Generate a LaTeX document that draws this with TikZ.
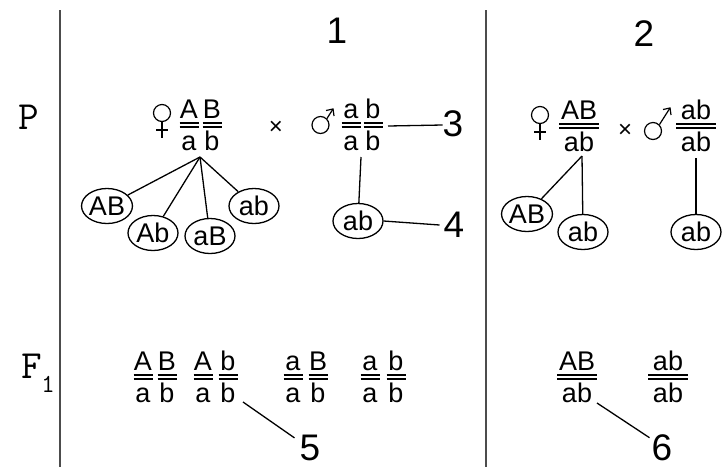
\documentclass[tikz,border=0pt]{standalone}
\usepackage{fontspec}
\setmainfont{Liberation Sans}
\usetikzlibrary{shapes.geometric}

% one locus column: top allele, double bar, bottom allele
\newcommand\genecol[5]{%
  \node[gl] (#1t) at (#2,#3) {#4};
  \node[gl] (#1b) at (#2,#3+32) {#5};
  \draw[dbar] (#2-9.5,#3+5) -- (#2+9.5,#3+5);
  \draw[dbar] (#2-9.5,#3+9) -- (#2+9.5,#3+9);
}
% whole genotype written over one double bar
\newcommand\genepair[5]{%
  \node[gl] (#1t) at (#2,#3) {#4};
  \node[gl] (#1b) at (#2,#3+32) {#5};
  \draw[dbar] (#2-20,#3+5) -- (#2+20,#3+5);
  \draw[dbar] (#2-20,#3+9) -- (#2+20,#3+9);
}
% female sign: circle centre (#2,#3)
\newcommand\femsign[3]{%
  \node[sexring] (#1) at (#2,#3) {};
  \draw[sym] (#1.south) -- (#2,#3+25);
  \draw[sym] (#2-6,#3+17) -- (#2+6,#3+17);
}
% male sign: circle centre (#2,#3), arrow tip (#4,#5)
\newcommand\malesign[5]{%
  \node[sexring] (#1) at (#2,#3) {};
  \coordinate (#1tip) at (#4,#5);
  \draw[sym] (#1.north east) -- (#1tip);
  \draw[sym] (#4-7,#5+1.5) -- (#1tip) -- (#4+1,#5+7);
}

\begin{document}
\begin{tikzpicture}[x=1pt,y=-1pt,
  gl/.style={inner sep=0pt, anchor=base, font=\fontsize{27}{27}\selectfont},
  dbar/.style={line width=1.2pt},
  sym/.style={line width=1.2pt},
  sexring/.style={circle, draw, line width=1.2pt, minimum size=17pt, inner sep=0pt},
  gamete/.style={ellipse, draw, line width=1.3pt, minimum width=50pt,
    minimum height=35pt, inner sep=0pt, font=\fontsize{27}{27}\selectfont},
  num/.style={inner sep=0pt, font=\fontsize{37}{37}\selectfont},
  rowlbl/.style={inner sep=0pt, font=\ttfamily\fontsize{40}{40}\selectfont},
  cross/.style={inner sep=0pt, font=\fontsize{24}{24}\selectfont},
  link/.style={line width=1.3pt},
  rule/.style={line width=1.6pt, draw=black!70}]

\fill[white] (0,0) rectangle (722,467);
\useasboundingbox (0,0) rectangle (722,467);

% column rules
\draw[rule] (60,10) -- (60,467);
\draw[rule] (486,10) -- (486,467);

% row and column headings
\node[rowlbl] (rowP) at (29,117) {P};
\node[rowlbl] (rowF) at (32,366) {F};
\node[inner sep=0pt, font=\ttfamily\fontsize{26}{26}\selectfont] (rowFsub) at (48,384) {1};
\node[num] (col1) at (337,31) {1};
\node[num] (col2) at (644,34) {2};

% ---------- cross 1, parents ----------
\femsign{fem1}{162}{113}
\genecol{f1A}{189}{118}{A}{a}
\genecol{f1B}{212}{118}{B}{b}
\node[cross] (x1) at (276,128) {×};
\malesign{mal1}{320.5}{125}{333}{109}
\genecol{m1A}{351}{118}{a}{a}
\genecol{m1B}{373}{118}{b}{b}

% gametes of cross 1
\node[gamete] (g1AB) at (107,206) {AB};
\node[gamete] (g1Ab) at (153,233) {Ab};
\node[gamete] (g1aB) at (210,236) {aB};
\node[gamete] (g1ab) at (254,206) {ab};
\node[gamete] (m1ab) at (358,221) {ab};

\coordinate (f1root) at (200,157);
\draw[link] (f1root) -- (g1AB);
\draw[link] (f1root) -- (g1Ab);
\draw[link] (f1root) -- (g1aB);
\draw[link] (f1root) -- (g1ab);
\coordinate (m1root) at (361,157);
\draw[link] (m1root) -- (m1ab);

% callouts 3 and 4
\node[num] (n3) at (453,124) {3};
\node[num] (n4) at (454,225) {4};
\coordinate (m1side) at (388,126);
\draw[link] (m1side) -- ([yshift=-1pt]n3.west);
\draw[link] (m1ab.east) -- ([xshift=-4pt]n4.west);

% ---------- cross 2, parents ----------
\femsign{fem2}{540}{115}
\genepair{f2}{579}{119}{AB}{ab}
\node[cross] (x2) at (625,131) {×};
\malesign{mal2}{653}{131}{670}{108}
\genepair{m2}{696}{119}{ab}{ab}

% gametes of cross 2
\node[gamete] (g2AB) at (527,214) {AB};
\node[gamete] (g2ab) at (583,232) {ab};
\node[gamete] (m2ab) at (696,232) {ab};
\coordinate (f2root) at (582,156);
\draw[link] (f2root) -- (g2AB);
\draw[link] (f2root) -- (g2ab);
\coordinate (m2root) at (696,158);
\draw[link] (m2root) -- (m2ab);

% ---------- F1 of cross 1 ----------
\genecol{o1A}{143}{370}{A}{a}
\genecol{o1B}{167}{370}{B}{b}
\genecol{o2A}{203}{370}{A}{a}
\genecol{o2B}{228}{370}{b}{b}
\genecol{o3A}{293}{370}{a}{a}
\genecol{o3B}{318}{370}{B}{b}
\genecol{o4A}{370}{370}{a}{a}
\genecol{o4B}{396}{370}{b}{b}

\node[num] (n5) at (310,448) {5};
\coordinate (o2foot) at (243,402);
\draw[link] (o2foot) -- ([shift={(-5,3)}]n5.north west);

% ---------- F1 of cross 2 ----------
\genepair{p1}{577}{370}{AB}{ab}
\genepair{p2}{668}{370}{ab}{ab}

\node[num] (n6) at (662,448) {6};
\coordinate (p1foot) at (597,403);
\draw[link] (p1foot) -- ([shift={(-2,3)}]n6.north west);

\end{tikzpicture}
\end{document}
